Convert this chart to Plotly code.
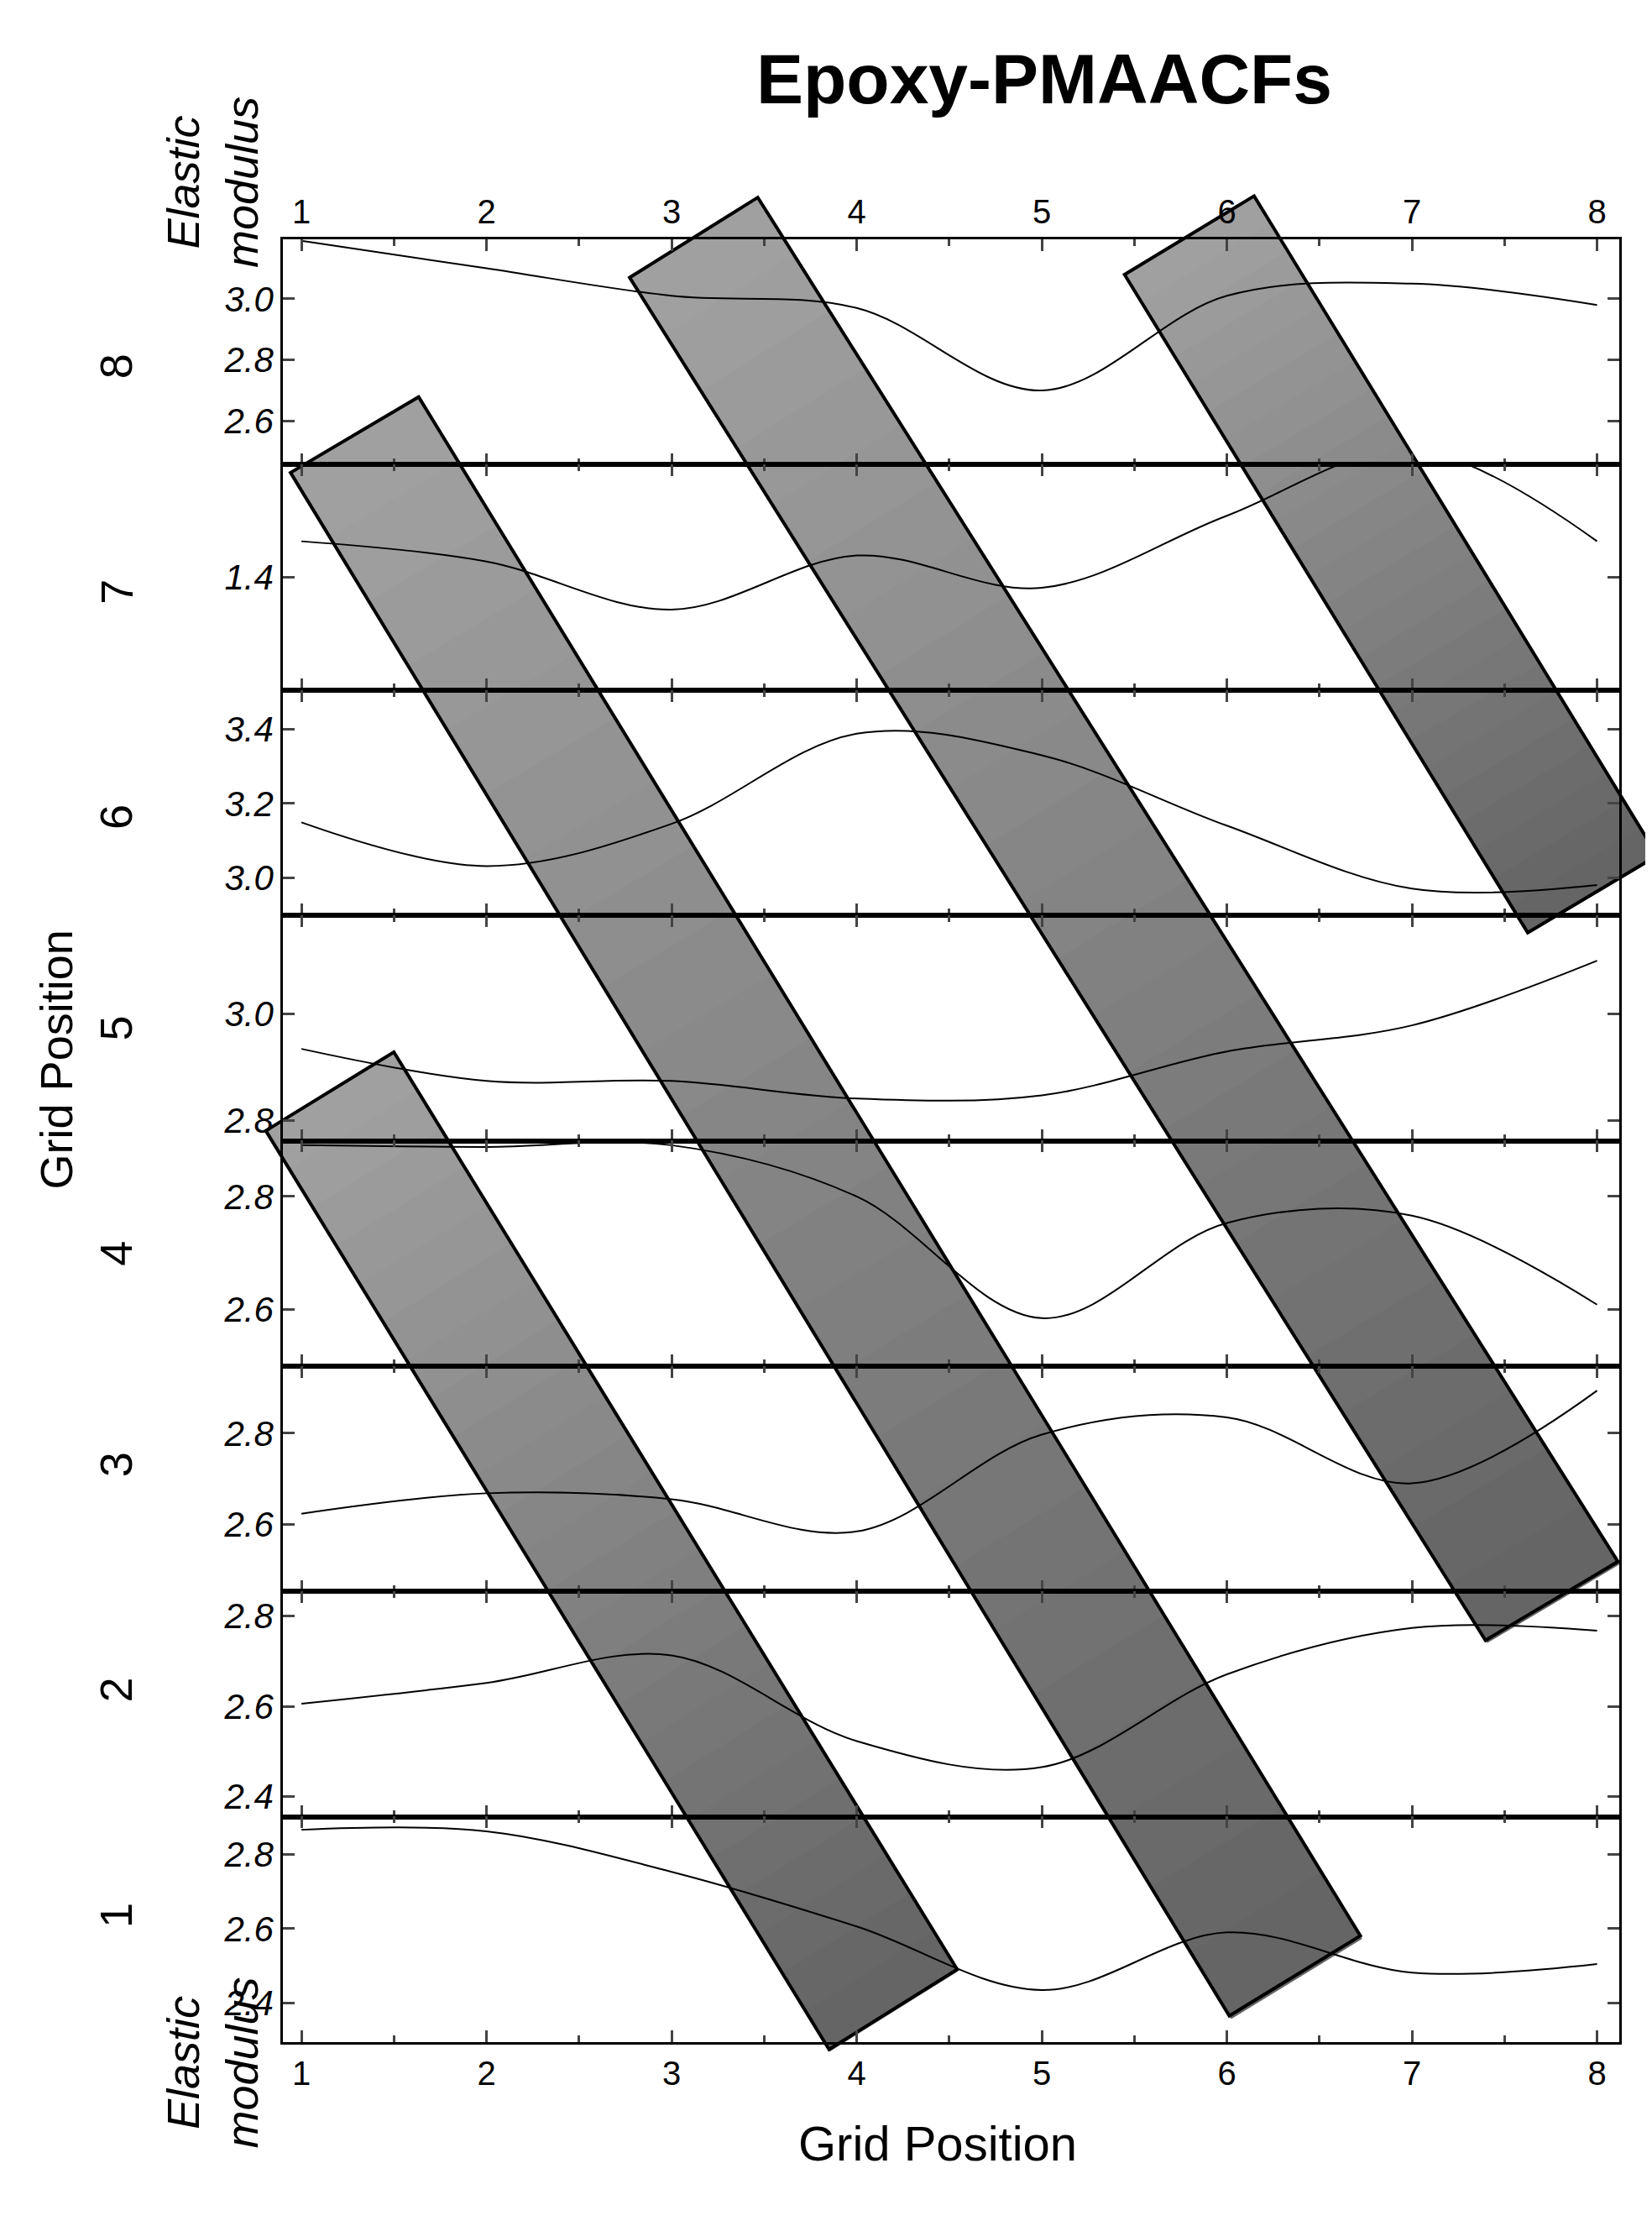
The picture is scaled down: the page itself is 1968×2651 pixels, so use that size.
import plotly.graph_objects as go
from plotly.subplots import make_subplots

grid_x = [1, 2, 3, 4, 5, 6, 7, 8]
panel_names = ["8", "7", "6", "5", "4", "3", "2", "1"]

modulus_8 = [3.19, 3.10, 3.01, 2.97, 2.70, 3.01, 3.05, 2.98]
modulus_7 = [1.448, 1.421, 1.357, 1.429, 1.386, 1.482, 1.57, 1.448]
modulus_6 = [3.149, 3.031, 3.145, 3.388, 3.33, 3.14, 2.97, 2.98]
modulus_5 = [2.934, 2.874, 2.874, 2.841, 2.847, 2.929, 2.978, 3.099]
modulus_4 = [2.891, 2.888, 2.891, 2.80, 2.584, 2.753, 2.766, 2.608]
modulus_3 = [2.623, 2.668, 2.655, 2.584, 2.797, 2.835, 2.690, 2.894]
modulus_2 = [2.606, 2.652, 2.713, 2.523, 2.465, 2.671, 2.774, 2.768]
modulus_1 = [2.866, 2.862, 2.753, 2.606, 2.435, 2.590, 2.482, 2.505]
series = [modulus_8, modulus_7, modulus_6, modulus_5, modulus_4, modulus_3, modulus_2, modulus_1]

y_ranges = [[2.457, 3.195], [1.25, 1.55], [2.898, 3.506], [2.762, 3.184],
            [2.499, 2.899], [2.452, 2.948], [2.355, 2.855], [2.295, 2.901]]
y_ticks = [[2.6, 2.8, 3.0], [1.4], [3.0, 3.2, 3.4], [2.8, 3.0],
           [2.6, 2.8], [2.6, 2.8], [2.4, 2.6, 2.8], [2.4, 2.6, 2.8]]

# gray bands, corners in pixels of a 1135-wide copy of the picture
bands = [
    [(195, 320), (283, 268), (930, 1325), (840, 1380)],
    [(428, 186), (516, 131), (1107, 1068), (1016, 1122)],
    [(768, 184), (857, 130), (1134, 583), (1045, 636)],
    [(178, 772), (266, 718), (653, 1348), (565, 1403)],
]

W, H = 1968, 2651
S = W / 1135
L, R, T, B = 329, 47, 277, 227
PW, PH = W - L - R, H - T - B


def px(x, y):
    return (x * S - L) / PW, 1 - (y * S - T) / PH


fig = make_subplots(rows=8, cols=1, shared_xaxes=True, vertical_spacing=0)

for i, ys in enumerate(series):
    fig.add_trace(go.Scatter(x=grid_x, y=ys, mode="lines", line_shape="spline",
                             line=dict(color="black", width=2), showlegend=False),
                  row=i + 1, col=1)
    fig.update_yaxes(range=y_ranges[i], tickvals=y_ticks[i], tickformat=".1f",
                     ticks="inside", ticklen=14, tickwidth=3, showline=True, linewidth=2.5,
                     linecolor="black", mirror="ticks", showgrid=False, zeroline=False,
                     tickfont=dict(size=42, family="Liberation Sans", style="italic", color="black"),
                     row=i + 1, col=1)
    fig.update_xaxes(range=[0.9, 8.12], tickvals=grid_x, ticks="inside", ticklen=14,
                     tickwidth=3, showline=True, linewidth=2.5, linecolor="black",
                     mirror="ticks", showgrid=False, zeroline=False, showticklabels=False,
                     minor=dict(ticks="inside", ticklen=8, tickwidth=3, dtick=0.5),
                     tickfont=dict(size=40, family="Liberation Sans", color="black"),
                     row=i + 1, col=1)
    fig.add_annotation(text=panel_names[i], xref="paper", yref="paper", x=-0.145,
                       y=1 - (i + 0.5) / 8, textangle=-90, showarrow=False,
                       font=dict(size=54, family="Liberation Sans", color="black"))

fig.update_xaxes(showticklabels=True, row=8, col=1)
fig.update_layout(xaxis=dict(side="top", showticklabels=True))

# bands drawn as strips of changing gray
N = 24
for c in bands:
    (ax, ay), (bx, by), (cx, cy), (dx, dy) = c
    for k in range(N):
        t0, t1 = k / N, (k + 1) / N + 0.002
        p = [(ax + (dx - ax) * t0, ay + (dy - ay) * t0), (bx + (cx - bx) * t0, by + (cy - by) * t0),
             (bx + (cx - bx) * t1, by + (cy - by) * t1), (ax + (dx - ax) * t1, ay + (dy - ay) * t1)]
        g = int(162 - 62 * (t0 + t1) / 2)
        path = "M " + " L ".join(f"{px(*q)[0]:.5f},{px(*q)[1]:.5f}" for q in p) + " Z"
        fig.add_shape(type="path", path=path, xref="paper", yref="paper", layer="below",
                      fillcolor=f"rgb({g},{g},{g})", line=dict(width=0))
    path = "M " + " L ".join(f"{px(*q)[0]:.5f},{px(*q)[1]:.5f}" for q in c) + " Z"
    fig.add_shape(type="path", path=path, xref="paper", yref="paper", layer="below",
                  line=dict(color="black", width=4))

fig.add_annotation(text="<b>Epoxy-PMAACFs</b>", xref="paper", yref="paper", x=0.57, y=1.112,
                   showarrow=False, font=dict(size=84, family="Liberation Sans", color="black"))
fig.add_annotation(text="Grid Position", xref="paper", yref="paper", x=0.49, y=-0.072,
                   showarrow=False, font=dict(size=58, family="Liberation Sans", color="black"))
fig.add_annotation(text="Grid Position", xref="paper", yref="paper", x=-0.19, y=0.545,
                   textangle=-90, showarrow=False, font=dict(size=54, family="Liberation Sans", color="black"))
for yy in [1.08, -0.06]:
    fig.add_annotation(text="<i>Elastic<br>modulus</i>", xref="paper", yref="paper", x=-0.095,
                       y=yy, textangle=-90, showarrow=False,
                       font=dict(size=54, family="Liberation Sans", color="black"))

fig.update_layout(width=W, height=H, margin=dict(l=L, r=R, t=T, b=B),
                  paper_bgcolor="white", plot_bgcolor="rgba(0,0,0,0)")
fig.write_html("out.html")
